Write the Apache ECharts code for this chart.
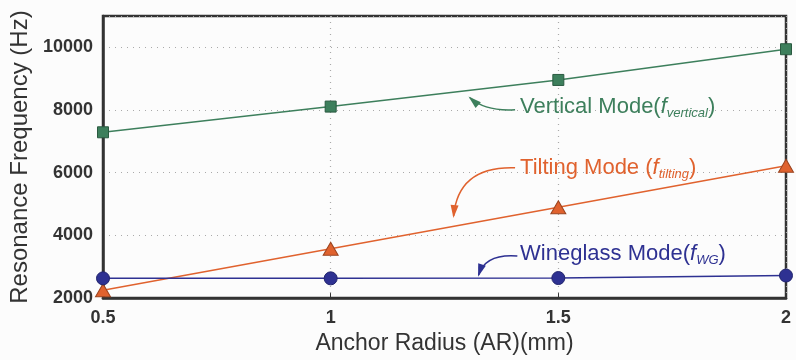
<!DOCTYPE html>
<html>
<head>
<meta charset="utf-8">
<script src="https://cdn.jsdelivr.net/npm/echarts@6/dist/echarts.min.js"></script>
<style>html,body{margin:0;padding:0;background:#fcfcfc;}#c{width:796px;height:360px;}</style>
</head>
<body>
<div id="c"></div>
<script>
const anchorRadius = [0.5, 1, 1.5, 2];
const verticalMode = [7290, 8110, 8960, 9940];
const tiltingMode = [2250, 3575, 4900, 6220];
const wineglassMode = [2630, 2630, 2640, 2720];
const yTicks = [2000, 4000, 6000, 8000, 10000];

const GREEN = '#3d7f5c', ORANGE = '#e0622e', BLUE = '#2e3192';
const chart = echarts.init(document.getElementById('c'), null, {renderer: 'canvas'});

function pairs(vals) { return anchorRadius.map((x, i) => [x, vals[i]]); }

const option = {
  backgroundColor: '#fcfcfc',
  animation: false,
  grid: {left: 103, right: 10, top: 16, bottom: 58, show: true, borderColor: '#333', borderWidth: 2.5, backgroundColor: 'transparent'},
  xAxis: {
    type: 'value', min: 0.5, max: 2, interval: 0.5,
    name: 'Anchor Radius (AR)(mm)', nameLocation: 'middle', nameGap: 33,
    nameTextStyle: {fontFamily: 'Liberation Sans', fontSize: 23, color: '#333'},
    axisLine: {show: true, lineStyle: {color: '#333', width: 2.5}},
    axisTick: {show: true, inside: true, length: 5, lineStyle: {color: '#333', width: 1}},
    axisLabel: {fontFamily: 'Liberation Sans', fontWeight: 'bold', fontSize: 18, color: '#333', margin: 11,
      formatter: v => String(v)},
    splitLine: {show: true, lineStyle: {color: '#aaa', type: [1, 5], width: 1.2}}
  },
  yAxis: {
    type: 'value', min: 2000, max: 11000, interval: 2000,
    name: 'Resonance Frequency (Hz)', nameLocation: 'middle', nameGap: 58,
    nameTextStyle: {fontFamily: 'Liberation Sans', fontSize: 24, color: '#333'},
    axisLine: {show: true, lineStyle: {color: '#333', width: 2.5}},
    axisTick: {show: false},
    axisLabel: {fontFamily: 'Liberation Sans', fontWeight: 'bold', fontSize: 18, color: '#333', margin: 10,
      formatter: v => (yTicks.indexOf(v) >= 0 ? String(v) : '')},
    splitLine: {show: true, lineStyle: {color: '#aaa', type: [1, 5], width: 1.2}}
  },
  series: [
    {name: 'Vertical', type: 'line', data: pairs(verticalMode), clip: false,
      symbol: 'rect', symbolSize: 11, lineStyle: {color: GREEN, width: 1.5},
      itemStyle: {color: GREEN, borderColor: '#2a5a40', borderWidth: 1}},
    {name: 'Tilting', type: 'line', data: pairs(tiltingMode), clip: false,
      symbol: 'triangle', symbolSize: [15, 13], lineStyle: {color: ORANGE, width: 1.5},
      itemStyle: {color: ORANGE, borderColor: '#9a4420', borderWidth: 1}},
    {name: 'Wineglass', type: 'line', data: pairs(wineglassMode), clip: false,
      symbol: 'circle', symbolSize: 13, lineStyle: {color: BLUE, width: 1.5},
      itemStyle: {color: BLUE, borderColor: '#22256e', borderWidth: 1}}
  ]
};
chart.setOption(option);

// annotations (label text + curved arrow), anchored in data space
const annotations = [
  {text: 'Vertical Mode(', sub: 'vertical', color: GREEN, at: [1.416, 8110], from: [1.405, 8010], ctrl: [1.34, 7950], to: [1.306, 8390]},
  {text: 'Tilting Mode (', sub: 'tilting', color: ORANGE, at: [1.416, 6160], from: [1.405, 6160], ctrl: [1.28, 6220], to: [1.27, 4620]},
  {text: 'Wineglass Mode(', sub: 'WG', color: BLUE, at: [1.416, 3400], from: [1.41, 3340], ctrl: [1.34, 3420], to: [1.325, 2740]}
];
const P = p => chart.convertToPixel({gridIndex: 0}, p);
const graphics = [];
annotations.forEach(a => {
  const at = P(a.at), s = P(a.from), c = P(a.ctrl), e = P(a.to);
  graphics.push({
    type: 'text', x: at[0], y: at[1],
    style: {
      text: '{m|' + a.text + '}{f|f}{s|' + a.sub + '}{m|)}',
      fill: a.color,
      verticalAlign: 'middle', align: 'left',
      rich: {
        m: {fontFamily: 'Liberation Sans', fontSize: 22, fill: a.color, lineHeight: 26},
        f: {fontFamily: 'Liberation Sans', fontSize: 22, fontStyle: 'italic', fill: a.color, lineHeight: 26},
        s: {fontFamily: 'Liberation Sans', fontSize: 13, fontStyle: 'italic', fill: a.color, lineHeight: 20, verticalAlign: 'bottom'}
      }
    }
  });
  graphics.push({
    type: 'bezierCurve',
    shape: {x1: s[0], y1: s[1], cpx1: c[0], cpy1: c[1], x2: e[0], y2: e[1]},
    style: {stroke: a.color, lineWidth: 1.5, fill: null}
  });
  const dx = e[0] - c[0], dy = e[1] - c[1];
  const L = Math.hypot(dx, dy), ux = dx / L, uy = dy / L;
  const len = 11, w = 4;
  const bx = e[0] - ux * len, by = e[1] - uy * len;
  graphics.push({
    type: 'polygon',
    shape: {points: [[e[0] + ux * 2, e[1] + uy * 2], [bx - uy * w, by + ux * w], [bx + uy * w, by - ux * w]]},
    style: {fill: a.color}
  });
});
chart.setOption({graphic: graphics});
</script>
</body>
</html>
